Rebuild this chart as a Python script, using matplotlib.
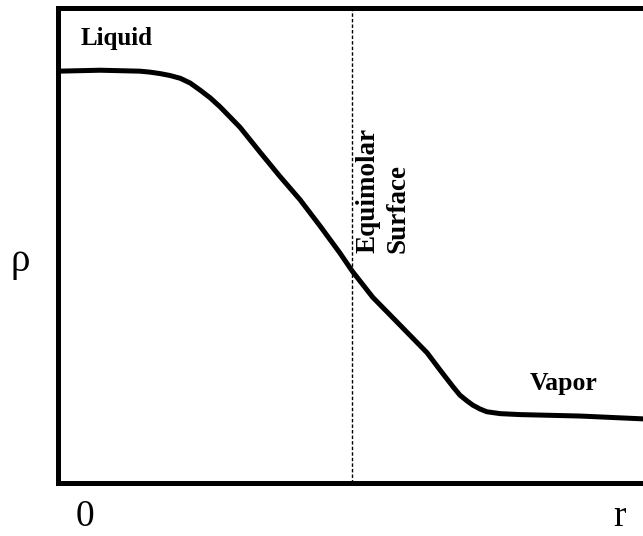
import matplotlib.pyplot as plt

# density profile (r and rho scaled to 0..1)
r = [0.0, 0.072, 0.140, 0.157, 0.174, 0.191, 0.209, 0.226, 0.243, 0.260,
     0.277, 0.311, 0.345, 0.379, 0.414, 0.448, 0.482, 0.503, 0.538, 0.585,
     0.631, 0.653, 0.675, 0.687, 0.699, 0.709, 0.721, 0.733, 0.756, 0.790,
     0.892, 1.0]
rho = [0.867, 0.869, 0.867, 0.865, 0.862, 0.858, 0.852, 0.842, 0.827, 0.811,
       0.792, 0.749, 0.697, 0.646, 0.596, 0.541, 0.484, 0.446, 0.391, 0.332,
       0.274, 0.238, 0.203, 0.185, 0.173, 0.164, 0.156, 0.150, 0.146, 0.144,
       0.141, 0.135]
r_equimolar = 0.503
tick_pos = [0.046, 0.96]
tick_labels = ['0', 'r']

serif = 'Liberation Serif'

fig = plt.figure(figsize=(6.43, 5.36), dpi=100)
ax = fig.add_axes([58/643, 1 - 483/536, 1 - 58/643, 475/536])

ax.plot(r, rho, color='black', linewidth=3.6, solid_capstyle='round',
        solid_joinstyle='round')
ax.axvline(r_equimolar, color='black', linewidth=1.0, linestyle=(0, (2.5, 1.5)))

ax.set_xlim(0, 1)
ax.set_ylim(0, 1)
for s in ['left', 'bottom', 'top']:
    ax.spines[s].set_linewidth(3.6)
ax.spines['right'].set_visible(False)

ax.set_xticks(tick_pos, tick_labels, fontsize=27, family=serif)
ax.tick_params(axis='x', length=0, pad=12)
ax.set_yticks([])

#textos
ax.text(0.039, 0.922, 'Liquid', fontsize=18, fontweight='bold', family=serif)
ax.text(0.807, 0.196, 'Vapor', fontsize=18.5, fontweight='bold', family=serif)
ax.text(0.530, 0.484, 'Equimolar', rotation=90, ha='center', va='bottom',
        fontsize=19.5, fontweight='bold', family=serif)
ax.text(0.581, 0.484, 'Surface', rotation=90, ha='center', va='bottom',
        fontsize=19.5, fontweight='bold', family=serif)
fig.text(20/643, 1 - 262/536, 'ρ', fontsize=28, family=serif, ha='center', va='center')

fig.savefig('out.png', dpi=100)
